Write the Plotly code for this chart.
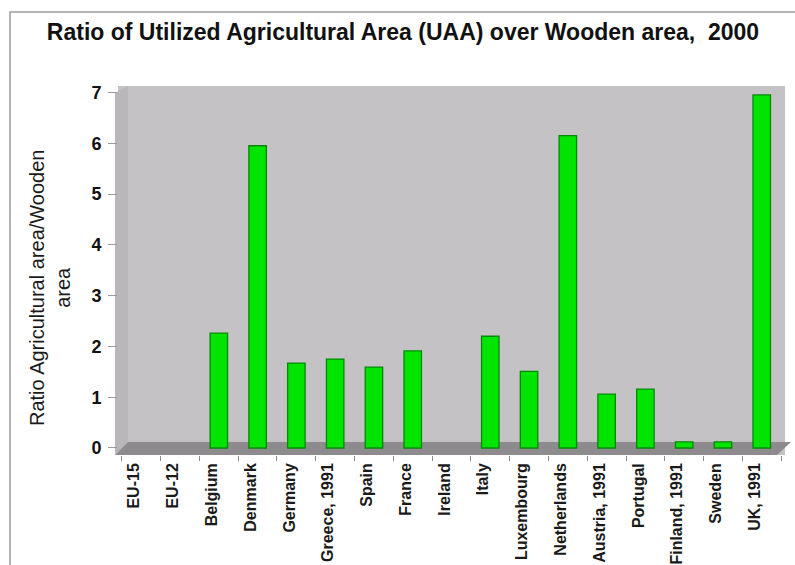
import plotly.graph_objects as go

# ---- data ----
categories = ["EU-15", "EU-12", "Belgium", "Denmark", "Germany", "Greece, 1991", "Spain",
              "France", "Ireland", "Italy", "Luxembourg", "Netherlands", "Austria, 1991",
              "Portugal", "Finland, 1991", "Sweden", "UK, 1991"]
ratios = [None, None, 2.26, 5.95, 1.67, 1.75, 1.59, 1.91, None, 2.2, 1.51, 6.15, 1.06, 1.16,
          0.12, 0.12, 6.95]
y_ticks = [0, 1, 2, 3, 4, 5, 6, 7]
title_text = "Ratio of Utilized Agricultural Area (UAA) over Wooden area,\u00a0\u00a02000"
y_title = "Ratio Agricultural area/Wooden<br>area"

# ---- layout geometry (pixels) ----
W, H = 795, 565
L, R, T, B = 118, 785, 86, 455


def px(x):
    return (x - L) / (R - L)


def py(y):
    return (B - y) / (B - T)


fig = go.Figure()
fig.add_trace(go.Bar(
    x=categories, y=ratios, width=0.45,
    marker=dict(color="#00e400", line=dict(color="#008a00", width=1.3)),
    yaxis="y2", hoverinfo="x+y",
))

floor = (f"M {px(115)} {py(455)} L {px(777)} {py(455)} L {px(791)} {py(442)} "
         f"L {px(128)} {py(442)} Z")
side = (f"M {px(115)} {py(455)} L {px(115)} {py(93)} L {px(128)} {py(86)} "
        f"L {px(128)} {py(442)} Z")

fig.update_layout(
    width=W, height=H,
    margin=dict(l=L, r=W - R, t=T, b=H - B, autoexpand=False),
    paper_bgcolor="white", plot_bgcolor="#c5c2c6",
    showlegend=False, bargap=0.55,
    font=dict(family="Liberation Sans, Arial, sans-serif", color="#1a1a1a"),
    title=dict(text="<b>" + title_text + "</b>", font=dict(size=23, color="#111"),
               x=403 / W, xref="container", xanchor="center",
               y=1 - 32 / H, yref="container", yanchor="middle"),
    xaxis=dict(
        range=[-0.6, 16.6], showgrid=False, zeroline=False, showline=False,
        tickangle=-90, tickson="boundaries", ticks="outside", ticklen=5,
        tickcolor="#8a8a8a", ticklabelshift=-7, ticklabelstandoff=4,
        tickfont=dict(size=16, family="Liberation Sans, Arial", color="#1a1a1a",
                      weight="bold"),
    ),
    # wall grid axis (3D back wall offset)
    yaxis=dict(
        range=[-0.255, 6.98], tickvals=[1, 2, 3, 4, 5, 6], showticklabels=False,
        ticks="", showgrid=True, gridcolor="#828082", gridwidth=2.6,
        zeroline=False, showline=False, fixedrange=True,
    ),
    # value axis
    yaxis2=dict(
        overlaying="y", side="left", range=[-0.138, 7.126], tickvals=y_ticks,
        showgrid=False, zeroline=False, showline=False,
        ticks="outside", ticklen=9, tickcolor="#9a9a9a", ticklabelstandoff=3,
        tickfont=dict(size=18, family="Liberation Sans, Arial", color="#111",
                      weight="bold"),
    ),
    annotations=[
        dict(text=y_title, textangle=-90, xref="paper", yref="paper",
             x=px(50), y=py(288), xanchor="center", yanchor="middle",
             showarrow=False,
             font=dict(size=20, family="Liberation Sans, Arial", color="#1a1a1a")),
    ],
    shapes=[
        dict(type="path", path=side, xref="paper", yref="paper", layer="below",
             fillcolor="#b9b7b9", line=dict(width=0)),
        dict(type="path", path=floor, xref="paper", yref="paper", layer="below",
             fillcolor="#8d8b8d", line=dict(width=0)),
        dict(type="rect", xref="paper", yref="paper", x0=px(10), y0=py(575),
             x1=px(805), y1=py(12), line=dict(color="#9c9c9c", width=1.5),
             fillcolor="rgba(0,0,0,0)", layer="below"),
    ],
)

fig.write_html("out.html")
